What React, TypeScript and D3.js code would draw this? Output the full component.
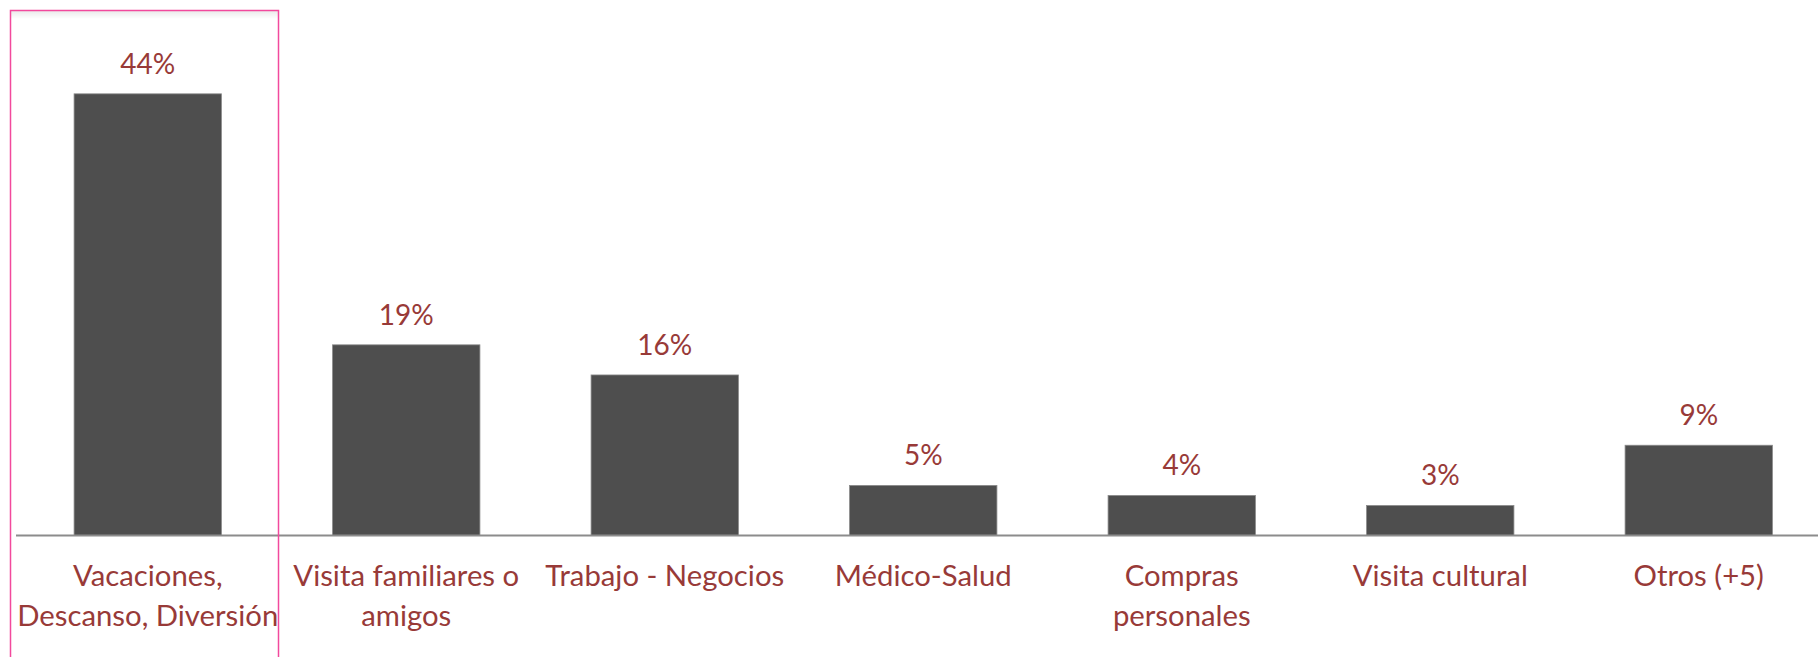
import React from 'react';
import * as d3 from 'd3';

const categories = [
  'Vacaciones, Descanso, Diversión',
  'Visita familiares o amigos',
  'Trabajo - Negocios',
  'Médico-Salud',
  'Compras personales',
  'Visita cultural',
  'Otros (+5)',
];
const categoryLines = [
  ['Vacaciones,', 'Descanso, Diversión'],
  ['Visita familiares o', 'amigos'],
  ['Trabajo - Negocios'],
  ['Médico-Salud'],
  ['Compras', 'personales'],
  ['Visita cultural'],
  ['Otros (+5)'],
];
const values = [44, 19, 16, 5, 4, 3, 9];
const valueLabels = ['44%', '19%', '16%', '5%', '4%', '3%', '9%'];

const W = 1818;
const H = 657;
const FONT = 'Lato, "Open Sans", sans-serif';
const VALUE_FONT_SIZE = 28;
const CAT_FONT_SIZE = 29.3;
const TEXT_COLOR = '#983a38';

if (typeof document !== 'undefined') {
  document.body.style.margin = '0';
}

export default function App() {
  const x0 = 18.5;
  const step = 258.5;
  const x = d3
    .scaleBand<string>()
    .domain(categories)
    .range([x0, x0 + step * categories.length])
    .paddingInner(0.43)
    .paddingOuter(0.215);
  const axisY = 535.6;
  const y = d3.scaleLinear().domain([0, 50]).range([axisY, axisY - 502]);

  return (
    <svg width={W} height={H} style={{ display: 'block', background: '#fff' }}>
      <defs>
        <linearGradient id="shade" x1="0" y1="0" x2="0" y2="1">
          <stop offset="0" stopColor="#000" stopOpacity="0.08" />
          <stop offset="1" stopColor="#000" stopOpacity="0" />
        </linearGradient>
      </defs>
      <rect x={11} y={11} width={267} height={8} fill="url(#shade)" />
      {categories.map((c, i) => {
        const bx = x(c)!;
        const bw = x.bandwidth();
        const top = y(values[i]);
        return (
          <g key={c}>
            <rect
              x={bx}
              y={top}
              width={bw}
              height={axisY - top}
              fill="#4e4e4e"
              stroke="#8a8a8a"
              strokeWidth={0.8}
            />
            <text
              x={bx + bw / 2}
              y={top - 20}
              textAnchor="middle"
              fontFamily={FONT}
              fontSize={VALUE_FONT_SIZE}
              fill={TEXT_COLOR}
            >
              {valueLabels[i]}
            </text>
          </g>
        );
      })}
      <line x1={16} x2={W} y1={axisY} y2={axisY} stroke="#8c8c8c" strokeWidth={2} />
      {categories.map((c, i) => {
        const cx = x(c)! + x.bandwidth() / 2;
        const lines = categoryLines[i];
        return (
          <text
            key={'l' + c}
            textAnchor="middle"
            fontFamily={FONT}
            fontSize={CAT_FONT_SIZE}
            fill={TEXT_COLOR}
          >
            {lines.map((l, j) => (
              <tspan key={j} x={cx} y={586 + j * 39.5}>
                {l}
              </tspan>
            ))}
          </text>
        );
      })}
      <rect x={10.5} y={10.5} width={268} height={700} fill="none" stroke="#f2499d" strokeWidth={1.5} />
    </svg>
  );
}
